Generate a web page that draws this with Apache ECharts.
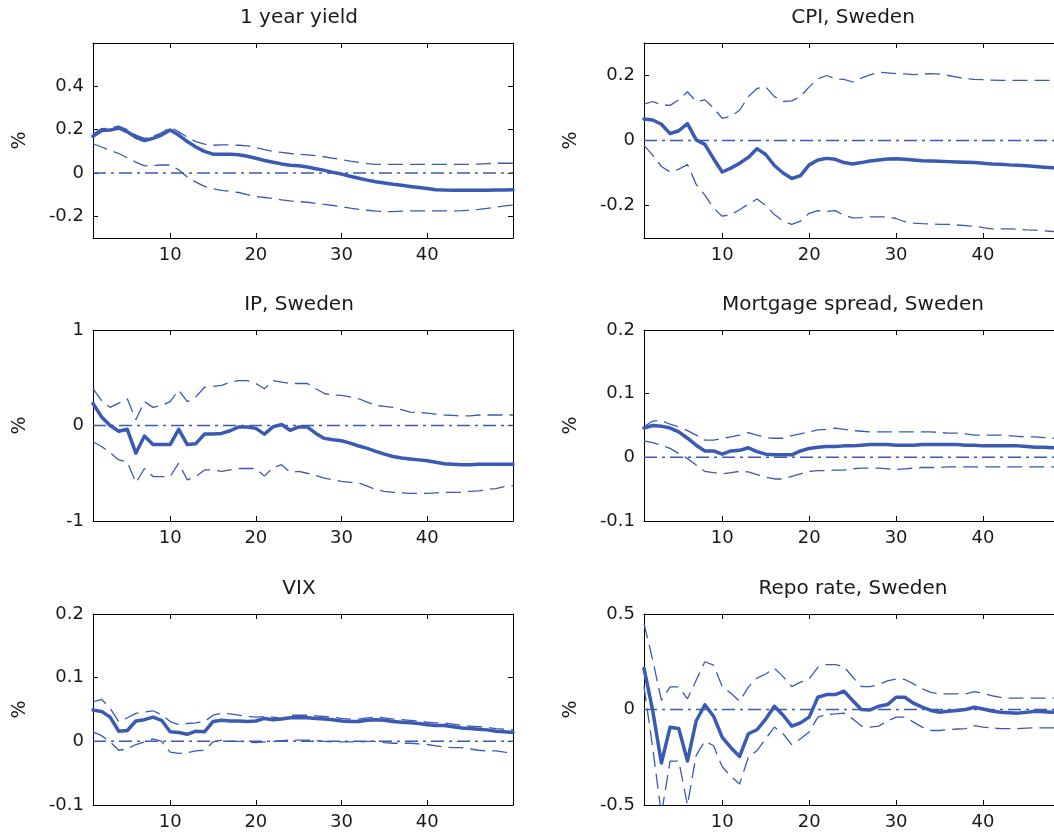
<!DOCTYPE html>
<html>
<head>
<meta charset="utf-8">
<script src="https://cdn.jsdelivr.net/npm/echarts@6/dist/echarts.min.js"></script>
<style>
  html, body { margin: 0; padding: 0; background: #fff; }
  #chart { width: 1054px; height: 838px; }
</style>
</head>
<body>
<div id="chart"></div>
<script>
// ---------- DATA ----------
const horizon = [1,2,3,4,5,6,7,8,9,10,11,12,13,14,15,16,17,18,19,20,21,22,23,24,25,26,27,28,29,30,31,32,33,34,35,36,37,38,39,40,41,42,43,44,45,46,47,48,49,50];
const xTicks = [10, 20, 30, 40];

const panelTitles = ["1 year yield", "CPI, Sweden", "IP, Sweden", "Mortgage spread, Sweden", "VIX", "Repo rate, Sweden"];
const yLabel = "%";

const yieldYTicks = [-0.2, 0, 0.2, 0.4];
const cpiYTicks = [-0.2, 0, 0.2];
const ipYTicks = [-1, 0, 1];
const mortYTicks = [-0.1, 0, 0.1, 0.2];
const vixYTicks = [-0.1, 0, 0.1, 0.2];
const repoYTicks = [-0.5, 0, 0.5];

// 1 year yield
const yieldMid = [0.17,0.196,0.198,0.208,0.19,0.165,0.15,0.16,0.175,0.198,0.175,0.145,0.12,0.1,0.087,0.087,0.086,0.084,0.077,0.068,0.058,0.05,0.042,0.036,0.033,0.028,0.02,0.012,0.003,-0.005,-0.015,-0.024,-0.033,-0.04,-0.046,-0.052,-0.057,-0.062,-0.067,-0.072,-0.077,-0.079,-0.08,-0.08,-0.08,-0.08,-0.08,-0.079,-0.078,-0.077];
const yieldUp = [0.18,0.205,0.207,0.216,0.2,0.175,0.16,0.17,0.185,0.212,0.19,0.165,0.145,0.133,0.128,0.13,0.13,0.128,0.125,0.118,0.108,0.1,0.095,0.09,0.087,0.084,0.08,0.075,0.068,0.062,0.055,0.049,0.043,0.04,0.04,0.04,0.04,0.04,0.04,0.04,0.04,0.04,0.04,0.04,0.04,0.041,0.043,0.045,0.045,0.045];
const yieldLow = [0.135,0.12,0.105,0.09,0.07,0.05,0.033,0.035,0.037,0.037,0.015,-0.018,-0.042,-0.062,-0.073,-0.08,-0.085,-0.09,-0.1,-0.108,-0.113,-0.118,-0.124,-0.129,-0.132,-0.135,-0.14,-0.145,-0.15,-0.155,-0.162,-0.168,-0.172,-0.176,-0.178,-0.178,-0.176,-0.175,-0.175,-0.175,-0.175,-0.175,-0.175,-0.174,-0.172,-0.168,-0.163,-0.158,-0.152,-0.148];

// CPI, Sweden
const cpiMid = [0.066,0.063,0.05,0.021,0.03,0.052,0.002,-0.012,-0.056,-0.097,-0.085,-0.07,-0.052,-0.025,-0.043,-0.077,-0.1,-0.117,-0.108,-0.075,-0.06,-0.055,-0.058,-0.068,-0.072,-0.068,-0.063,-0.06,-0.057,-0.056,-0.058,-0.06,-0.062,-0.063,-0.064,-0.065,-0.066,-0.067,-0.068,-0.07,-0.072,-0.073,-0.075,-0.076,-0.078,-0.08,-0.082,-0.084,-0.086,-0.088];
const cpiUp = [0.112,0.12,0.11,0.108,0.125,0.15,0.12,0.125,0.1,0.068,0.075,0.093,0.135,0.16,0.165,0.135,0.12,0.122,0.135,0.165,0.19,0.2,0.19,0.188,0.18,0.192,0.202,0.21,0.208,0.206,0.205,0.203,0.204,0.206,0.204,0.2,0.195,0.19,0.188,0.187,0.186,0.185,0.185,0.185,0.185,0.185,0.185,0.185,0.185,0.185];
const cpiLow = [-0.015,-0.045,-0.08,-0.097,-0.088,-0.074,-0.135,-0.168,-0.208,-0.233,-0.228,-0.213,-0.196,-0.18,-0.2,-0.228,-0.248,-0.258,-0.248,-0.224,-0.216,-0.218,-0.216,-0.23,-0.238,-0.237,-0.235,-0.235,-0.235,-0.24,-0.25,-0.254,-0.256,-0.257,-0.258,-0.258,-0.26,-0.262,-0.264,-0.268,-0.272,-0.272,-0.272,-0.273,-0.275,-0.276,-0.278,-0.28,-0.282,-0.284];

// IP, Sweden
const ipMid = [0.23,0.09,0.0,-0.06,-0.04,-0.29,-0.11,-0.2,-0.2,-0.2,-0.04,-0.2,-0.19,-0.09,-0.09,-0.083,-0.055,-0.015,-0.015,-0.03,-0.09,-0.015,0.01,-0.05,-0.015,-0.015,-0.083,-0.135,-0.15,-0.16,-0.185,-0.215,-0.24,-0.27,-0.3,-0.325,-0.34,-0.35,-0.36,-0.37,-0.385,-0.4,-0.405,-0.41,-0.41,-0.405,-0.405,-0.405,-0.405,-0.405];
const ipUp = [0.385,0.26,0.19,0.235,0.28,0.06,0.25,0.19,0.21,0.25,0.37,0.25,0.3,0.4,0.41,0.42,0.455,0.47,0.47,0.44,0.385,0.47,0.455,0.44,0.44,0.44,0.385,0.335,0.32,0.315,0.3,0.28,0.245,0.21,0.2,0.19,0.165,0.14,0.135,0.13,0.12,0.11,0.105,0.1,0.1,0.11,0.11,0.11,0.11,0.11];
const ipLow = [-0.17,-0.22,-0.285,-0.36,-0.38,-0.6,-0.45,-0.535,-0.535,-0.535,-0.395,-0.57,-0.535,-0.465,-0.465,-0.48,-0.465,-0.45,-0.45,-0.45,-0.53,-0.44,-0.41,-0.49,-0.48,-0.5,-0.525,-0.55,-0.57,-0.585,-0.595,-0.6,-0.635,-0.67,-0.69,-0.7,-0.705,-0.71,-0.71,-0.71,-0.705,-0.7,-0.7,-0.7,-0.69,-0.685,-0.67,-0.66,-0.64,-0.63];

// Mortgage spread, Sweden
const mortMid = [0.046,0.05,0.049,0.046,0.04,0.03,0.019,0.01,0.01,0.005,0.01,0.011,0.015,0.009,0.005,0.004,0.004,0.004,0.01,0.014,0.016,0.017,0.017,0.018,0.018,0.019,0.02,0.02,0.02,0.019,0.019,0.019,0.02,0.02,0.02,0.02,0.02,0.019,0.019,0.018,0.018,0.018,0.018,0.018,0.017,0.016,0.016,0.015,0.015,0.015];
const mortUp = [0.048,0.057,0.058,0.052,0.048,0.042,0.035,0.027,0.027,0.03,0.032,0.035,0.039,0.035,0.031,0.03,0.03,0.034,0.037,0.04,0.043,0.044,0.046,0.044,0.042,0.041,0.04,0.04,0.04,0.04,0.04,0.04,0.04,0.04,0.039,0.038,0.038,0.037,0.035,0.035,0.035,0.035,0.034,0.033,0.032,0.032,0.031,0.03,0.03,0.03];
const mortLow = [0.026,0.023,0.019,0.014,0.006,-0.002,-0.012,-0.022,-0.024,-0.026,-0.024,-0.022,-0.023,-0.027,-0.031,-0.034,-0.034,-0.03,-0.026,-0.022,-0.021,-0.021,-0.02,-0.02,-0.018,-0.017,-0.017,-0.017,-0.018,-0.019,-0.018,-0.017,-0.016,-0.016,-0.016,-0.015,-0.015,-0.015,-0.015,-0.015,-0.015,-0.015,-0.015,-0.015,-0.015,-0.015,-0.015,-0.015,-0.015,-0.015];

// VIX
const vixMid = [0.049,0.047,0.038,0.016,0.017,0.032,0.034,0.038,0.033,0.015,0.014,0.011,0.016,0.015,0.031,0.033,0.032,0.032,0.031,0.032,0.036,0.034,0.035,0.037,0.037,0.037,0.036,0.035,0.034,0.032,0.031,0.031,0.033,0.034,0.033,0.031,0.03,0.029,0.028,0.026,0.025,0.025,0.023,0.021,0.02,0.019,0.018,0.016,0.015,0.014];
const vixUp = [0.062,0.066,0.052,0.031,0.037,0.044,0.046,0.048,0.042,0.031,0.026,0.028,0.029,0.031,0.041,0.044,0.043,0.041,0.039,0.038,0.039,0.038,0.036,0.041,0.041,0.041,0.04,0.039,0.038,0.036,0.035,0.035,0.037,0.038,0.037,0.035,0.034,0.033,0.032,0.03,0.029,0.029,0.027,0.025,0.024,0.023,0.022,0.02,0.019,0.018];
const vixLow = [0.015,0.009,-0.001,-0.014,-0.012,-0.005,-0.001,0.004,0.0,-0.017,-0.019,-0.018,-0.015,-0.014,-0.001,0.002,0.0,0.0,-0.001,-0.002,-0.001,0.0,0.001,0.002,0.002,0.002,0.001,0.0,-0.001,-0.001,-0.001,-0.001,0.0,0.0,-0.002,-0.003,-0.003,-0.003,-0.004,-0.005,-0.007,-0.009,-0.01,-0.01,-0.012,-0.014,-0.015,-0.015,-0.017,-0.018];

// Repo rate, Sweden
const repoMid = [0.215,-0.005,-0.28,-0.093,-0.1,-0.27,-0.06,0.025,-0.035,-0.146,-0.2,-0.246,-0.127,-0.106,-0.05,0.017,-0.03,-0.087,-0.07,-0.04,0.064,0.078,0.078,0.096,0.047,0.0,-0.002,0.017,0.026,0.064,0.064,0.033,0.012,-0.005,-0.014,-0.009,-0.005,0.0,0.012,0.003,-0.008,-0.014,-0.017,-0.019,-0.015,-0.009,-0.012,-0.014,-0.012,-0.012];
const repoUp = [0.45,0.26,0.048,0.118,0.118,0.056,0.153,0.25,0.232,0.12,0.085,0.043,0.117,0.164,0.186,0.216,0.172,0.12,0.143,0.16,0.22,0.235,0.235,0.225,0.17,0.12,0.12,0.13,0.15,0.16,0.157,0.134,0.108,0.09,0.082,0.082,0.082,0.082,0.094,0.085,0.072,0.064,0.06,0.06,0.06,0.06,0.06,0.06,0.06,0.06];
const repoLow = [0.12,-0.2,-0.55,-0.27,-0.27,-0.5,-0.24,-0.165,-0.19,-0.3,-0.35,-0.39,-0.25,-0.215,-0.153,-0.092,-0.127,-0.185,-0.153,-0.118,-0.04,-0.026,-0.023,-0.019,-0.049,-0.087,-0.092,-0.087,-0.061,-0.04,-0.04,-0.066,-0.092,-0.11,-0.11,-0.105,-0.102,-0.1,-0.084,-0.092,-0.097,-0.1,-0.1,-0.1,-0.098,-0.096,-0.096,-0.096,-0.096,-0.096];

const zeroLine = [0,0,0,0,0,0,0,0,0,0,0,0,0,0,0,0,0,0,0,0,0,0,0,0,0,0,0,0,0,0,0,0,0,0,0,0,0,0,0,0,0,0,0,0,0,0,0,0,0,0];

// ---------- BUILD ----------
const panels = [
  { title: panelTitles[0], mid: yieldMid, up: yieldUp, low: yieldLow, yMin: -0.3, yMax: 0.6, yTicks: yieldYTicks },
  { title: panelTitles[1], mid: cpiMid, up: cpiUp, low: cpiLow, yMin: -0.3, yMax: 0.3, yTicks: cpiYTicks },
  { title: panelTitles[2], mid: ipMid, up: ipUp, low: ipLow, yMin: -1, yMax: 1, yTicks: ipYTicks },
  { title: panelTitles[3], mid: mortMid, up: mortUp, low: mortLow, yMin: -0.1, yMax: 0.2, yTicks: mortYTicks },
  { title: panelTitles[4], mid: vixMid, up: vixUp, low: vixLow, yMin: -0.1, yMax: 0.2, yTicks: vixYTicks },
  { title: panelTitles[5], mid: repoMid, up: repoUp, low: repoLow, yMin: -0.5, yMax: 0.5, yTicks: repoYTicks }
];

// layout of the six boxes (px); right column runs past the picture's right edge
const colLeft = [93, 644];
const colRight = [1054 - 513, 1054 - 1070];
const rowTop = [43, 330, 614];
const rowHeight = [195, 191, 191];

const FONT = '"DejaVu Sans", sans-serif';
const TXT = '#1a1a1a';
const BLUE = '#3a5ab4';

const grids = [], xAxes = [], yAxes = [], series = [], graphics = [];

const pair = arr => horizon.map((h, i) => [h, arr[i]]);

panels.forEach((p, k) => {
  const c = k % 2, r = Math.floor(k / 2);
  const left = colLeft[c], right = colRight[c], top = rowTop[r], height = rowHeight[r];
  const width = 1054 - left - right;
  grids.push({ left: left, right: right, top: top, height: height, containLabel: false, outerBoundsMode: 'none' });

  const lineStyle = { color: '#000', width: 1 };
  xAxes.push({
    type: 'value', gridIndex: k, min: 1, max: 50, position: 'bottom',
    axisLine: { show: true, onZero: false, lineStyle: lineStyle },
    axisTick: { show: true, inside: true, length: 5, customValues: xTicks, lineStyle: lineStyle },
    axisLabel: { show: true, customValues: xTicks, margin: 8, fontFamily: FONT, fontSize: 18, color: TXT },
    splitLine: { show: false }
  });
  xAxes.push({
    type: 'value', gridIndex: k, min: 1, max: 50, position: 'top',
    axisLine: { show: true, onZero: false, lineStyle: lineStyle },
    axisTick: { show: true, inside: true, length: 5, customValues: xTicks, lineStyle: lineStyle },
    axisLabel: { show: false },
    splitLine: { show: false }
  });
  yAxes.push({
    type: 'value', gridIndex: k, min: p.yMin, max: p.yMax, position: 'left',
    axisLine: { show: true, onZero: false, lineStyle: lineStyle },
    axisTick: { show: true, inside: true, length: 5, customValues: p.yTicks, lineStyle: lineStyle },
    axisLabel: { show: true, customValues: p.yTicks, margin: 9, fontFamily: FONT, fontSize: 18, color: TXT,
                 formatter: v => String(+v.toFixed(3)) },
    splitLine: { show: false }
  });
  yAxes.push({
    type: 'value', gridIndex: k, min: p.yMin, max: p.yMax, position: 'right',
    axisLine: { show: true, onZero: false, lineStyle: lineStyle },
    axisTick: { show: true, inside: true, length: 5, customValues: p.yTicks, lineStyle: lineStyle },
    axisLabel: { show: false },
    splitLine: { show: false }
  });

  const xi = 2 * k, yi = 2 * k;
  const common = { type: 'line', xAxisIndex: xi, yAxisIndex: yi, showSymbol: false, symbol: 'none', clip: true, silent: true, animation: false };
  series.push(Object.assign({}, common, { name: p.title + ' zero', data: pair(zeroLine), z: 2,
    lineStyle: { color: BLUE, width: 1.5, type: [13, 5, 3, 5] } }));
  series.push(Object.assign({}, common, { name: p.title + ' upper', data: pair(p.up), z: 3,
    lineStyle: { color: BLUE, width: 1.3, type: [15, 7] } }));
  series.push(Object.assign({}, common, { name: p.title + ' lower', data: pair(p.low), z: 3,
    lineStyle: { color: BLUE, width: 1.3, type: [15, 7] } }));
  series.push(Object.assign({}, common, { name: p.title, data: pair(p.mid), z: 4,
    lineStyle: { color: BLUE, width: 3.5, type: 'solid', join: 'round', cap: 'round' } }));

  graphics.push({
    type: 'text', x: left + width / 2 - 4, y: top - 25,
    style: { text: p.title, fontFamily: FONT, fontSize: 20, fill: TXT, align: 'center', verticalAlign: 'middle' }
  });
  graphics.push({
    type: 'text', x: left - 73, y: top + height / 2, rotation: Math.PI / 2,
    style: { text: yLabel, fontFamily: FONT, fontSize: 19, fill: TXT, align: 'center', verticalAlign: 'middle' }
  });
});

const chart = echarts.init(document.getElementById('chart'), null, { renderer: 'canvas', width: 1054, height: 838 });
chart.setOption({
  backgroundColor: '#ffffff',
  animation: false,
  grid: grids,
  xAxis: xAxes,
  yAxis: yAxes,
  series: series,
  graphic: graphics
});
</script>
</body>
</html>
